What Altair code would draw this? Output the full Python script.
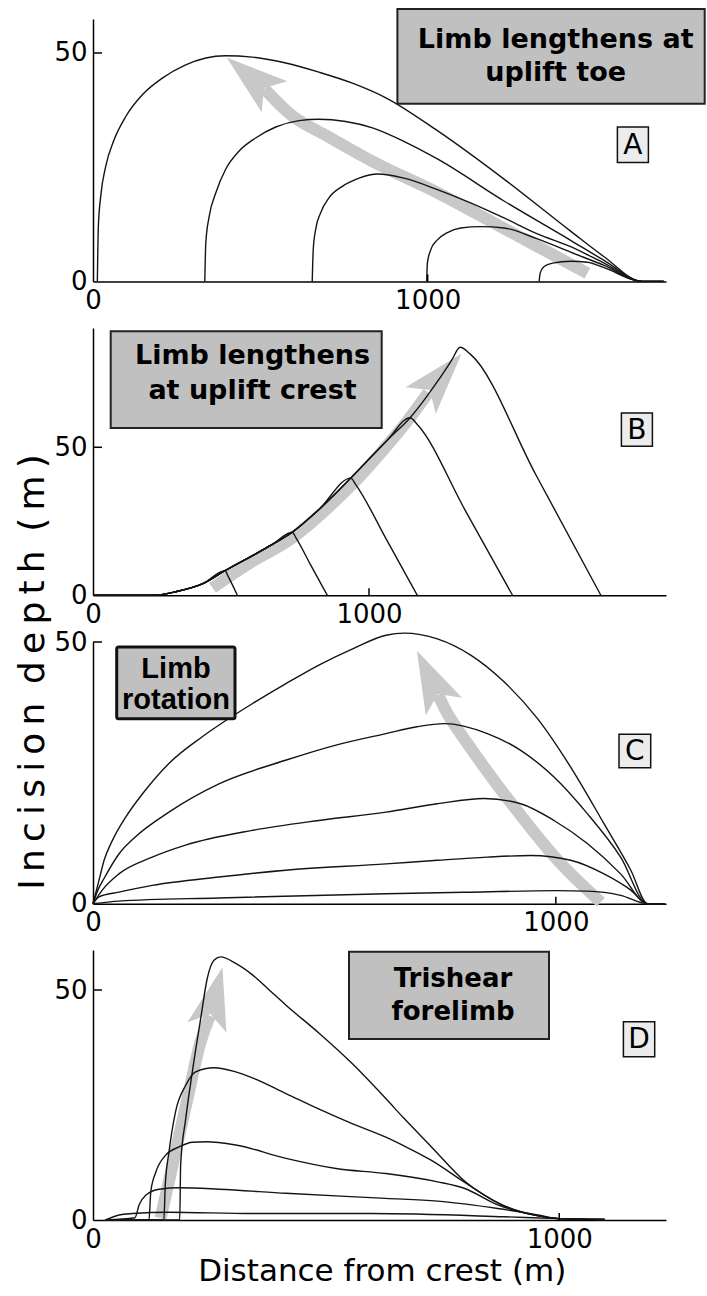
import altair as alt
import pandas as pd

FONT = "DejaVu Sans"
GRAY = "#c8c8c8"
BOXGRAY = "#c0c0c0"
LINE = "#141414"
HEAD_PATH = "M0,-1L0.65,1L0,0.55L-0.65,1Z"

X_TICKS = [0, 1000]
Y_TICKS = [0, 50]
X_TICK_MARKS = [1000]
Y_TICK_MARKS = [50]

# ---------------- Panel A : limb lengthens at uplift toe ----------------
A_X_DOMAIN = [0, 1712]
A_Y_DOMAIN = [0, 57.44]
A1_X = [13, 16, 23, 38, 63, 98, 148, 207, 277, 337, 396, 476, 576, 675, 775, 875, 1029, 1228, 1427, 1527, 1641, 1705]
A1_Y = [0, 12.0, 18.6, 25.2, 31.0, 36.1, 40.9, 44.5, 47.4, 48.9, 49.4, 49.1, 47.8, 45.8, 43.4, 40.2, 33.0, 22.4, 11.0, 5.4, 0, 0]
A2_X = [334, 337, 347, 367, 396, 436, 486, 546, 616, 675, 755, 835, 930, 1029, 1228, 1427, 1527, 1641, 1705]
A2_Y = [0, 8.4, 14.2, 19.4, 24.5, 28.5, 31.4, 33.8, 35.2, 35.5, 35.0, 33.6, 30.6, 26.8, 17.6, 9.0, 4.6, 0, 0]
A3_X = [655, 658, 665, 680, 705, 745, 795, 850, 929, 1029, 1128, 1228, 1328, 1427, 1527, 1641, 1705]
A3_Y = [0, 6.9, 11.3, 15.0, 18.3, 20.8, 22.6, 23.5, 22.6, 20.1, 17.2, 13.9, 10.4, 7.6, 4.0, 0, 0]
A4_X = [997, 999, 1009, 1029, 1059, 1099, 1158, 1228, 1328, 1427, 1527, 1641, 1705]
A4_Y = [0, 4.0, 6.9, 9.1, 10.7, 11.7, 12.0, 11.7, 9.3, 6.4, 3.5, 0, 0]
A5_X = [1333, 1336, 1347, 1373, 1427, 1477, 1527, 1641, 1705]
A5_Y = [0, 1.8, 3.2, 4.0, 4.4, 4.2, 3.0, 0, 0]
A_SHAFT_X = [1477, 1228, 1030, 850, 700, 600, 512]
A_SHAFT_Y = [1.8, 11.6, 19.4, 25.7, 31.8, 36.0, 42.2]
A_HEAD_X = [471]
A_HEAD_Y = [44.7]
A_HEAD_ANGLE = 309.5

# ---------------- Panel B : limb lengthens at uplift crest ----------------
B_X_DOMAIN = [0, 2076]
B_Y_DOMAIN = [0, 90.3]
B_ENV_X = [0, 220, 300, 400, 478, 578, 650, 722, 819, 934, 1067, 1149, 1250, 1300, 1330]
B_ENV_Y = [0, 0, 1.2, 4.0, 8.3, 13.4, 17.2, 21.3, 29.0, 39.6, 52.5, 60.0, 72.5, 79.5, 83.8]
B_PEAK_X = [478, 722, 934, 1149, 1330]
B1_DESC_X = [490, 523]
B1_DESC_Y = [6.3, 0]
B2_DESC_X = [735, 786, 849]
B2_DESC_Y = [19.5, 10.7, 0]
B3_DESC_X = [952, 1064, 1175]
B3_DESC_Y = [37.4, 18.7, 0]
B4_DESC_X = [1175, 1348, 1520]
B4_DESC_Y = [57.7, 28.8, 0]
B5_DESC_X = [1369, 1604, 1840]
B5_DESC_Y = [81.3, 40.8, 0]
B_SHAFT_X = [433, 578, 722, 934, 1060, 1140, 1215]
B_SHAFT_Y = [2.5, 11.5, 19.4, 37.0, 50.0, 59.0, 68.5]
B_HEAD_X = [1261]
B_HEAD_Y = [73.7]
B_HEAD_ANGLE = 41.3

# ---------------- Panel C : limb rotation ----------------
C_X_DOMAIN = [0, 1238]
C_Y_DOMAIN = [0, 50]
C1_X = [0, 56, 272, 633, 816, 1000, 1068, 1140, 1198, 1235]
C1_Y = [0, 0.5, 1.1, 1.9, 2.2, 2.5, 2.4, 1.6, 0, 0]
C2_X = [0, 13, 56, 128, 272, 416, 633, 744, 852, 946, 1032, 1104, 1162, 1198, 1235]
C2_Y = [0, 1.3, 2.2, 3.5, 5.1, 6.4, 7.6, 8.3, 8.9, 9.2, 8.3, 5.7, 2.6, 0, 0]
C3_X = [0, 20, 56, 128, 200, 344, 488, 633, 744, 845, 924, 996, 1068, 1140, 1198, 1235]
C3_Y = [0, 2.6, 5.7, 8.9, 11.2, 14.0, 15.9, 17.5, 19.1, 20.1, 19.1, 15.9, 11.5, 5.7, 0, 0]
C4_X = [0, 10, 25, 56, 92, 164, 272, 416, 525, 633, 700, 759, 852, 924, 996, 1068, 1140, 1198, 1235]
C4_Y = [0, 2.5, 5.0, 9.5, 12.8, 17.5, 22.9, 27.4, 30.3, 32.5, 33.8, 34.4, 32.5, 29.3, 24.2, 17.2, 8.9, 0, 0]
C5_X = [0, 13, 24, 42, 71, 107, 164, 236, 287, 344, 416, 488, 561, 633, 672, 744, 816, 888, 960, 1032, 1104, 1162, 1198, 1235]
C5_Y = [0, 4.5, 8.3, 12.1, 16.6, 21.0, 26.8, 31.9, 35.0, 38.2, 42.0, 45.6, 48.7, 51.3, 51.7, 50.6, 47.5, 42.4, 35.4, 26.1, 15.3, 6.4, 0, 0]
C_SHAFT_X = [1097, 1004, 888, 809, 766, 746]
C_SHAFT_Y = [0.3, 8.3, 21.0, 30.6, 36.3, 39.9]
C_HEAD_X = [729]
C_HEAD_Y = [43.0]
C_HEAD_ANGLE = 334.2

# ---------------- Panel D : trishear forelimb ----------------
D_X_DOMAIN = [0, 1229]
D_Y_DOMAIN = [0, 58.7]
D1_X = [27, 56, 85, 163, 342, 596, 882, 997, 1097]
D1_Y = [0, 1.1, 1.4, 1.7, 1.4, 1.4, 0.7, 0.3, 0.1]
D2_X = [27, 90, 99, 113, 142, 185, 270, 414, 628, 739, 868, 954, 1000, 1097]
D2_Y = [0, 0.5, 3.3, 5.4, 6.7, 7.0, 6.7, 5.8, 4.7, 4.1, 2.5, 1.1, 0.3, 0.1]
D3_X = [27, 120, 124, 135, 156, 185, 213, 242, 306, 414, 521, 628, 739, 796, 868, 950, 1000, 1097]
D3_Y = [0, 0, 6.2, 10.5, 14.1, 15.9, 16.9, 17.0, 16.3, 13.4, 11.2, 10.1, 8.3, 6.9, 3.3, 1.0, 0.3, 0.1]
D4_X = [27, 152, 155, 163, 177, 199, 220, 260, 306, 342, 414, 485, 557, 628, 667, 725, 800, 880, 950, 1000, 1097]
D4_Y = [0, 0, 7.6, 14.8, 23.5, 29.3, 32.2, 33.1, 32.2, 30.9, 27.5, 24.1, 20.9, 18.0, 16.1, 13.0, 8.0, 3.1, 1.0, 0.3, 0.1]
D5_X = [27, 186, 188, 199, 213, 231, 245, 260, 274, 306, 342, 378, 414, 485, 557, 628, 667, 725, 800, 880, 950, 1000, 1097]
D5_Y = [0, 0, 12.0, 22.1, 32.2, 43.8, 52.5, 56.5, 57.2, 55.8, 53.3, 50.0, 46.7, 40.6, 33.9, 26.4, 22.1, 16.0, 8.2, 3.2, 1.0, 0.3, 0.1]
D_SHAFT_X = [145, 177, 206, 231, 251]
D_SHAFT_Y = [0.4, 14.8, 27.9, 38.8, 44.4]
D_HEAD_X = [261]
D_HEAD_Y = [48.4]
D_HEAD_ANGLE = 14.5

W = 573
A_H, B_H, C_H, D_H = 262.4, 267.3, 261.7, 270.0


def curves_frame(pairs):
    rows = []
    for name, (xs, ys) in pairs.items():
        for i, (x, y) in enumerate(zip(xs, ys)):
            rows.append({"curve": name, "i": i, "x": x, "y": y})
    return pd.DataFrame(rows)


def path_frame(xs, ys):
    return pd.DataFrame({"i": list(range(len(xs))), "x": xs, "y": ys})


def b_curve(k, dx, dy):
    xs = [x for x in B_ENV_X if x <= B_PEAK_X[k]]
    ys = B_ENV_Y[: len(xs)]
    return (xs + dx, ys + dy)


ONE = pd.DataFrame({"k": [0]})


def box(x1, x2, y1, y2, fill, stroke, sw, radius=0):
    return alt.Chart(ONE).mark_rect(
        fill=fill, stroke=stroke, strokeWidth=sw, cornerRadius=radius
    ).encode(x=alt.value(x1), x2=alt.value(x2), y=alt.value(y1), y2=alt.value(y2))


def label(text, x, y, size, weight="normal", font=FONT, baseline="alphabetic", angle=0):
    return alt.Chart(ONE).mark_text(
        text=text, font=font, fontSize=size, fontWeight=weight, align="center",
        baseline=baseline, color="black", angle=angle
    ).encode(x=alt.value(x), y=alt.value(y))


def make_panel(curve_df, shaft_df, head_x, head_y, angle, xdom, ydom, H, extras):
    xs = alt.Scale(domain=xdom, nice=False, zero=False)
    ys = alt.Scale(domain=ydom, nice=False, zero=False)
    common = dict(title=None, grid=False, ticks=False, tickSize=0, labelFlush=False,
                  labelFont=FONT, labelFontSize=26, labelColor="black",
                  domainColor="black", domainWidth=1.5, labelOverlap=False, format="d")
    xaxis = alt.Axis(values=X_TICKS, labelPadding=6, **common)
    yaxis = alt.Axis(values=Y_TICKS, labelPadding=6, **common)

    def X(field="x"):
        return alt.X(f"{field}:Q", scale=xs, axis=xaxis)

    def Y(field="y"):
        return alt.Y(f"{field}:Q", scale=ys, axis=yaxis)

    shaft = alt.Chart(shaft_df).mark_line(
        color=GRAY, strokeWidth=12, interpolate="catmull-rom", strokeCap="butt"
    ).encode(x=X(), y=Y(), order="i:Q")
    head = alt.Chart(pd.DataFrame({"x": head_x, "y": head_y})).mark_point(
        shape=HEAD_PATH, size=3844, filled=True, color=GRAY, opacity=1,
        angle=angle, strokeWidth=0
    ).encode(x=X(), y=Y())
    lines = alt.Chart(curve_df).mark_line(
        color=LINE, strokeWidth=1.4, interpolate="monotone"
    ).encode(x=X(), y=Y(), detail="curve:N", order="i:Q")
    xtick = alt.Chart(pd.DataFrame({"x": X_TICK_MARKS})).mark_rule(
        color="black", strokeWidth=1.5
    ).encode(x=X(), y=alt.value(H), y2=alt.value(H - 7))
    ytick = alt.Chart(pd.DataFrame({"y": Y_TICK_MARKS})).mark_rule(
        color="black", strokeWidth=1.5
    ).encode(y=Y(), x=alt.value(0), x2=alt.value(9))
    return alt.layer(shaft, head, lines, xtick, ytick, *extras).properties(
        width=W, height=H, view=alt.ViewBackground(stroke="transparent", strokeWidth=0)
    )


panel_a = make_panel(
    curves_frame({"a1": (A1_X, A1_Y), "a2": (A2_X, A2_Y), "a3": (A3_X, A3_Y),
                  "a4": (A4_X, A4_Y), "a5": (A5_X, A5_Y)}),
    path_frame(A_SHAFT_X, A_SHAFT_Y), A_HEAD_X, A_HEAD_Y, A_HEAD_ANGLE,
    A_X_DOMAIN, A_Y_DOMAIN, A_H,
    [
        box(304.4, 611.7, -10, 84.7, BOXGRAY, "#222", 2),
        label("Limb lengthens at", 462.7, 29.0, 27, "bold"),
        label("uplift toe", 462.7, 62.4, 27, "bold"),
        box(524.4, 555.4, 108, 143.4, "#ececec", "#111", 1.5),
        label("A", 539.9, 126.5, 28, baseline="middle"),
    ],
)

panel_b = make_panel(
    curves_frame({"b1": b_curve(0, B1_DESC_X, B1_DESC_Y), "b2": b_curve(1, B2_DESC_X, B2_DESC_Y),
                  "b3": b_curve(2, B3_DESC_X, B3_DESC_Y), "b4": b_curve(3, B4_DESC_X, B4_DESC_Y),
                  "b5": b_curve(4, B5_DESC_X, B5_DESC_Y)}),
    path_frame(B_SHAFT_X, B_SHAFT_Y), B_HEAD_X, B_HEAD_Y, B_HEAD_ANGLE,
    B_X_DOMAIN, B_Y_DOMAIN, B_H,
    [
        box(17.7, 288.7, 3.3, 100, BOXGRAY, "#222", 2),
        label("Limb lengthens", 159.5, 36.0, 27, "bold"),
        label("at uplift crest", 159.5, 70.6, 27, "bold"),
        box(528.4, 559.4, 85, 118.3, "#ececec", "#111", 1.5),
        label("B", 543.9, 102.5, 28, baseline="middle"),
    ],
)

YTITLE = "I\u2009n\u2009c\u2009i\u2009s\u2009i\u2009o\u2009n \u2009d\u2009e\u2009p\u2009t\u2009h \u2009(\u2009m\u2009)"

panel_c = make_panel(
    curves_frame({"c1": (C1_X, C1_Y), "c2": (C2_X, C2_Y), "c3": (C3_X, C3_Y),
                  "c4": (C4_X, C4_Y), "c5": (C5_X, C5_Y)}),
    path_frame(C_SHAFT_X, C_SHAFT_Y), C_HEAD_X, C_HEAD_Y, C_HEAD_ANGLE,
    C_X_DOMAIN, C_Y_DOMAIN, C_H,
    [
        box(23.7, 142, 5, 76.7, BOXGRAY, "#111", 3, 2),
        label("Limb", 83, 35.5, 29, "bold", font="Liberation Sans"),
        label("rotation", 83, 66.5, 29, "bold", font="Liberation Sans"),
        box(526, 557.7, 92.3, 125.7, "#ececec", "#111", 1.5),
        label("C", 541.9, 109.8, 28, baseline="middle"),
        label(YTITLE, -60.3, 30, 36, angle=270, baseline="middle"),
    ],
)

panel_d = make_panel(
    curves_frame({"d1": (D1_X, D1_Y), "d2": (D2_X, D2_Y), "d3": (D3_X, D3_Y),
                  "d4": (D4_X, D4_Y), "d5": (D5_X, D5_Y)}),
    path_frame(D_SHAFT_X, D_SHAFT_Y), D_HEAD_X, D_HEAD_Y, D_HEAD_ANGLE,
    D_X_DOMAIN, D_Y_DOMAIN, D_H,
    [
        box(256, 456, 1.7, 89, BOXGRAY, "#222", 2),
        label("Trishear", 360, 36.7, 26, "bold"),
        label("forelimb", 360, 69.7, 26, "bold"),
        box(530.4, 561.7, 71.7, 106.7, "#ececec", "#111", 1.5),
        label("D", 546, 90, 28, baseline="middle"),
        label("Distance from crest (m)", 289.2, 331, 31),
    ],
)

chart = alt.vconcat(
    panel_a, panel_b, panel_c, panel_d, spacing=46, bounds="flush"
).properties(
    padding={"left": 14, "top": 8, "right": 0, "bottom": 0}
).configure(
    background="white"
).configure_view(
    stroke="transparent", strokeWidth=0
)

chart.save("out.html", embed_options={"renderer": "svg", "actions": False})
